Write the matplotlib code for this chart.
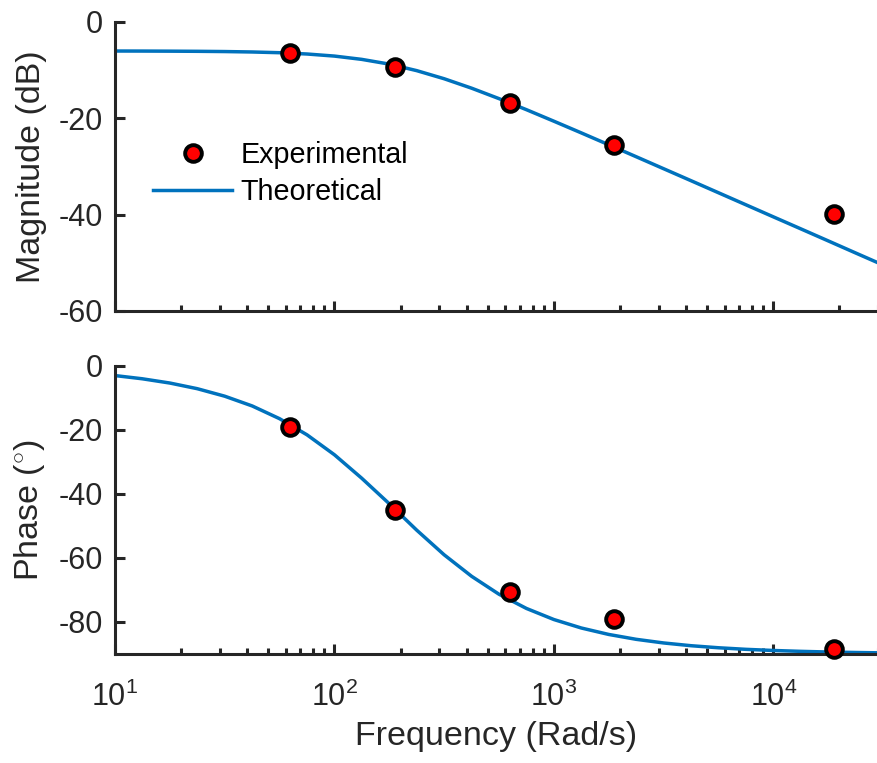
import matplotlib
matplotlib.use("Agg")
import matplotlib.pyplot as plt
from matplotlib.ticker import LogLocator, LogFormatterMathtext, NullFormatter

plt.rcParams['font.family'] = ['Liberation Sans', 'DejaVu Sans']
plt.rcParams['mathtext.fontset'] = 'custom'
plt.rcParams['mathtext.rm'] = 'Liberation Sans'
plt.rcParams['mathtext.it'] = 'Liberation Sans:italic'
plt.rcParams['axes.unicode_minus'] = False

# measured points
freq_exp = [62.8, 188.5, 628, 1885, 18850]
mag_exp = [-6.4, -9.3, -16.8, -25.6, -39.9]
phase_exp = [-19.1, -45.0, -70.6, -79.1, -88.4]

# theoretical curve
freq_th = [10, 13.3, 17.8, 23.7, 31.6, 42.2, 56.2, 75.0, 100, 133, 178, 237,
           316, 422, 562, 750, 1000, 1334, 1778, 2371, 3162, 4217, 5623,
           7499, 10000, 13335, 17783, 23714, 30000]
mag_th = [-6.03, -6.04, -6.06, -6.09, -6.14, -6.23, -6.38, -6.65, -7.08,
          -7.76, -8.75, -10.10, -11.78, -13.75, -15.91, -18.21, -20.60,
          -23.03, -25.49, -27.97, -30.46, -32.95, -35.45, -37.95, -40.45,
          -42.94, -45.44, -47.95, -49.99]
phase_th = [-3.01, -4.01, -5.35, -7.11, -9.45, -12.51, -16.48, -21.53, -27.76,
            -35.06, -43.10, -51.30, -59.00, -65.74, -71.33, -75.78, -79.24,
            -81.89, -83.90, -85.42, -86.56, -87.42, -88.06, -88.55, -88.91,
            -89.18, -89.39, -89.54, -89.64]

dark = '#262626'
blue = '#0072BD'

fig = plt.figure(figsize=(8.78, 7.63), dpi=100)
ax1 = fig.add_axes([0.131, 0.5924, 0.869, 0.3788])
ax2 = fig.add_axes([0.131, 0.1429, 0.869, 0.3775])


def style(ax):
    ax.set_xscale('log')
    ax.set_xlim(10, 30000)
    for s in ['top', 'right']:
        ax.spines[s].set_visible(False)
    for s in ['left', 'bottom']:
        ax.spines[s].set_linewidth(2.2)
        ax.spines[s].set_color(dark)
    ax.xaxis.set_major_locator(LogLocator(base=10, numticks=10))
    ax.xaxis.set_minor_locator(LogLocator(base=10, subs=range(2, 10), numticks=10))
    ax.xaxis.set_minor_formatter(NullFormatter())
    ax.tick_params(which='major', direction='in', length=7, width=2.2,
                   color=dark, labelcolor=dark, labelsize=22)
    ax.tick_params(which='minor', direction='in', length=4, width=2.2, color=dark)
    ax.tick_params(axis='y', pad=9)
    ax.tick_params(axis='x', pad=20)


ax1.plot(freq_th, mag_th, color=blue, lw=2.5, label='Theoretical', zorder=2)
ax1.plot(freq_exp, mag_exp, 'o', ms=12, mfc='red', mec='black', mew=2.8,
         label='Experimental', zorder=3)
style(ax1)
ax1.set_ylim(-60, 0)
ax1.set_yticks([-60, -40, -20, 0])
ax1.set_xticklabels([])
ax1.set_ylabel('Magnitude (dB)', fontsize=24.5, color=dark, labelpad=8)
h, l = ax1.get_legend_handles_labels()
ax1.legend([h[1], h[0]], [l[1], l[0]], loc='center left',
           bbox_to_anchor=(0.0498, 0.4758), frameon=False, fontsize=20.7,
           borderpad=0, borderaxespad=0, handlelength=2.75,
           handletextpad=0.3, labelspacing=0.3, numpoints=1)

ax2.plot(freq_th, phase_th, color=blue, lw=2.5, zorder=2)
ax2.plot(freq_exp, phase_exp, 'o', ms=12, mfc='red', mec='black', mew=2.8,
         zorder=3, clip_on=False)
style(ax2)
ax2.set_ylim(-90, 0)
ax2.set_yticks([-80, -60, -40, -20, 0])
ax2.xaxis.set_major_formatter(LogFormatterMathtext())
ax2.set_ylabel('Phase ($^{\\circ}$)', fontsize=24.5, color=dark, labelpad=8)
ax2.set_xlabel('Frequency (Rad/s)', fontsize=24.5, color=dark, labelpad=6)

fig.savefig('out.png', dpi=100)
